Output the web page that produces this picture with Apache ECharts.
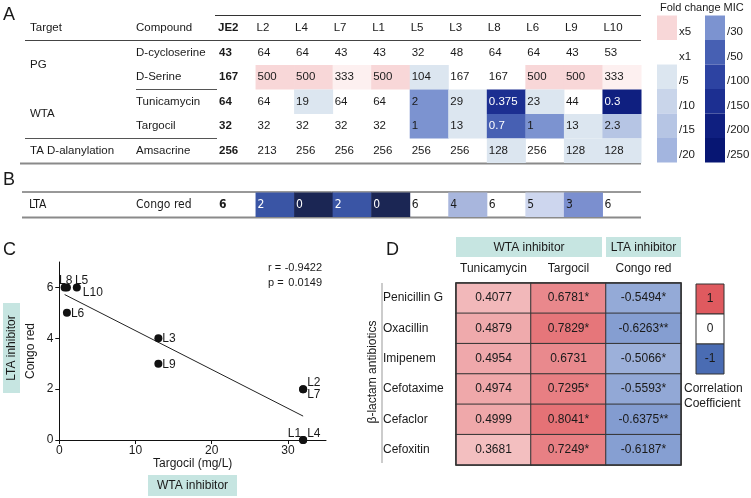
<!DOCTYPE html>
<html>
<head>
<meta charset="utf-8">
<script src="https://cdn.jsdelivr.net/npm/echarts@6/dist/echarts.min.js"></script>
<style>
  html, body { margin: 0; padding: 0; background: #fff; }
  #chart { width: 751px; height: 498px; }
</style>
</head>
<body>
<div id="chart"></div>
<script>
// ---------- panel A / B : MIC table ----------
const strains = ['JE2', 'L2', 'L4', 'L7', 'L1', 'L5', 'L3', 'L8', 'L6', 'L9', 'L10'];
const compounds = ['D-cycloserine', 'D-Serine', 'Tunicamycin', 'Targocil', 'Amsacrine'];
const targets = ['PG', 'WTA', 'TA D-alanylation'];
const targetRowSpan = [2, 2, 1];
const micRows = [
  ['43', '64', '64', '43', '43', '32', '48', '64', '64', '43', '53'],
  ['167', '500', '500', '333', '500', '104', '167', '167', '500', '500', '333'],
  ['64', '64', '19', '64', '64', '2', '29', '0.375', '23', '44', '0.3'],
  ['32', '32', '32', '32', '32', '1', '13', '0.7', '1', '13', '2.3'],
  ['256', '213', '256', '256', '256', '256', '256', '128', '256', '128', '128']
];
// fold change class of each cell, read from the shading
const foldRows = [
  ['x1', 'x1', 'x1', 'x1', 'x1', 'x1', 'x1', 'x1', 'x1', 'x1', 'x1'],
  ['x1', 'x5', 'x5', 'x2', 'x5', '/5', 'x1', 'x1', 'x5', 'x5', 'x2'],
  ['x1', 'x1', '/5', 'x1', 'x1', '/30', '/5', '/150', '/5', 'x1', '/200'],
  ['x1', 'x1', 'x1', 'x1', 'x1', '/30', '/5', '/50', '/30', '/5', '/15'],
  ['x1', 'x1', 'x1', 'x1', 'x1', 'x1', 'x1', '/5', 'x1', '/5', '/5']
];
const foldLegendLeft = ['x5', 'x1', '/5', '/10', '/15', '/20'];
const foldLegendRight = ['/30', '/50', '/100', '/150', '/200', '/250'];
const ltaTarget = 'LTA';
const ltaCompound = ['Congo red'];
const congoRed = [6, 2, 0, 2, 0, 6, 4, 6, 5, 3, 6];

// ---------- panel C : scatter ----------
const mutants = strains.slice(1);
const targocilMic = micRows[3].slice(1).map(Number);
const congoRedMic = congoRed.slice(1);
const fitLine = [[0.7, 5.72], [32, 0.94]];
const xTicks = [0, 10, 20, 30];
const yTicks = [0, 2, 4, 6];
const corrText = [['r =', '-0.9422'], ['p =', '0.0149']];

// ---------- panel D : correlation heatmap ----------
const antibiotics = ['Penicillin G', 'Oxacillin', 'Imipenem', 'Cefotaxime', 'Cefaclor', 'Cefoxitin'];
const inhibitors = ['Tunicamycin', 'Targocil', 'Congo red'];
const rTunicamycin = [0.4077, 0.4879, 0.4954, 0.4974, 0.4999, 0.3681];
const rTargocil = [0.6781, 0.7829, 0.6731, 0.7295, 0.8041, 0.7249];
const rCongoRed = [-0.5494, -0.6263, -0.5066, -0.5593, -0.6375, -0.6187];
const sigTunicamycin = ['', '', '', '', '', ''];
const sigTargocil = ['*', '*', '', '*', '*', '*'];
const sigCongoRed = ['*', '**', '*', '*', '**', '*'];
const colorbarTicks = ['1', '0', '-1'];

// ---------- styles ----------
const FONT = '"Liberation Sans", Arial, sans-serif';
const NARROW = '"Liberation Sans Narrow", "DejaVu Sans Condensed", "Liberation Sans", sans-serif';
const INK = '#1a1a1a';
const TEAL = '#c6e5e1';
const foldColors = {
  'x5': '#f8d7d8', 'x2': '#fdf0f0', 'x1': '#ffffff',
  '/5': '#dce6f0', '/10': '#c9d5ea', '/15': '#b6c5e4', '/20': '#a3b5df',
  '/30': '#7c93d0', '/50': '#4760b3', '/100': '#2d43a2', '/150': '#1c2f91',
  '/200': '#0f1f80', '/250': '#071673'
};
const darkFold = ['/50', '/100', '/150', '/200', '/250'];
const congoColors = { 0: '#1b2654', 1: '#2a3d7c', 2: '#3a55a5', 3: '#7b8fcf', 4: '#a8b6dd', 5: '#cdd6ee', 6: '#ffffff' };
const labelPlace = {
  L8: { align: 'center', offset: [1, -7] },
  L5: { align: 'left', offset: [8, -7] },
  L10: { align: 'left', offset: [6, 5] },
  L6: { align: 'left', offset: [4, 1] },
  L3: { align: 'left', offset: [4, 0] },
  L9: { align: 'left', offset: [4, 1] },
  L2: { align: 'left', offset: [4, -6] },
  L7: { align: 'left', offset: [4, 6] },
  L1: { align: 'right', offset: [-2, -6] },
  L4: { align: 'left', offset: [4, -6] }
};

// table grid geometry (A rows share it with the legend)
const tableTop = 40.5, rowH = 24.5;

function cellRenderer(textOf, fillOf, darkOf, font) {
  return function (params, api) {
    const c = api.value(0), r = api.value(1);
    const p = api.coord([c, r]);
    const s = api.size([1, 1]);
    const x0 = p[0] - s[0] / 2, y0 = p[1] - s[1] / 2;
    const fill = fillOf(r, c);
    const children = [];
    if (fill !== '#ffffff') {
      children.push({ type: 'rect', shape: { x: x0, y: y0, width: s[0] + 0.5, height: s[1] }, style: { fill: fill } });
    }
    children.push({
      type: 'text',
      style: {
        x: x0 + 2, y: p[1], text: textOf(r, c),
        font: (c === 0 ? 'bold ' : '') + font,
        fill: darkOf(r, c) ? '#ffffff' : INK, align: 'left', verticalAlign: 'middle'
      }
    });
    return { type: 'group', children: children };
  };
}

const cellsA = [];
micRows.forEach((row, r) => row.forEach((v, c) => cellsA.push([c, r])));
const cellsB = congoRed.map((v, c) => [c, 0]);

const heatData = [];
[rTunicamycin, rTargocil, rCongoRed].forEach((col, x) => col.forEach((v, y) => heatData.push([x, y, v])));
const sigCols = [sigTunicamycin, sigTargocil, sigCongoRed];

const scatterData = mutants.map((m, i) => ({
  name: m,
  value: [targocilMic[i], congoRedMic[i]],
  label: { position: 'inside', align: labelPlace[m].align, offset: labelPlace[m].offset }
}));

// ---------- graphic decorations ----------
const g = [];
function txt(x, y, text, opt) {
  g.push(Object.assign({
    type: 'text', x: x, y: y,
    style: Object.assign({ text: text, font: '11.5px ' + FONT, fill: INK, align: 'left', verticalAlign: 'middle' }, opt || {})
  }));
}
function hline(x1, x2, y, color, w) {
  g.push({ type: 'line', shape: { x1: x1, y1: y, x2: x2, y2: y }, style: { stroke: color, lineWidth: w } });
}
// panel letters
txt(3, 15, 'A', { font: '18px ' + FONT });
txt(3, 180, 'B', { font: '18px ' + FONT });
txt(3, 250, 'C', { font: '18px ' + FONT });
txt(386, 250, 'D', { font: '18px ' + FONT });
// table A headings and targets
txt(30, 28, 'Target');
txt(136, 28, 'Compound');
let acc = 0;
targets.forEach((t, i) => {
  txt(30, tableTop + (acc + targetRowSpan[i] / 2) * rowH, t);
  acc += targetRowSpan[i];
});
hline(215, 641, 15.5, '#333', 1);
hline(25, 641, tableTop, '#444', 1.2);
hline(136, 217, tableTop + 2 * rowH, '#555', 1);
hline(25, 217, tableTop + 4 * rowH, '#555', 1);
hline(20, 641, tableTop + 5 * rowH + 0.5, '#8a8a8a', 2.2);
// table B
txt(29, 205, ltaTarget, { font: '12px ' + NARROW });
hline(22, 641, 192, '#333', 1);
hline(22, 641, 217.5, '#8a8a8a', 2.2);
// fold change legend
txt(660, 8, 'Fold change MIC', { font: '11px ' + FONT });
[[foldLegendLeft, 657], [foldLegendRight, 705]].forEach(([items, lx]) => {
  items.forEach((lv, i) => {
    const y = 15.5 + i * rowH;
    if (foldColors[lv] !== '#ffffff') {
      g.push({ type: 'rect', shape: { x: lx, y: y, width: 20, height: rowH }, style: { fill: foldColors[lv] } });
    }
    txt(lx + 22, y + rowH / 2 + 4.5, lv, { font: '11.5px ' + FONT });
  });
});
// panel C extras
corrText.forEach((pair, i) => {
  txt(268, 268 + i * 15, pair[0], { font: '11px ' + FONT });
  txt(322, 268 + i * 15, pair[1], { font: '11px ' + FONT, align: 'right' });
});
g.push({ type: 'rect', shape: { x: 3, y: 303, width: 17, height: 90 }, style: { fill: TEAL } });
g.push({ type: 'text', x: 11.5, y: 348, rotation: Math.PI / 2,
  style: { text: 'LTA inhibitor', font: '12px ' + FONT, fill: INK, align: 'center', verticalAlign: 'middle' } });
g.push({ type: 'rect', shape: { x: 148, y: 475, width: 89, height: 21 }, style: { fill: TEAL } });
txt(192.5, 485.5, 'WTA inhibitor', { font: '12px ' + FONT, align: 'center' });
// panel D extras
g.push({ type: 'rect', shape: { x: 456, y: 237, width: 146, height: 20 }, style: { fill: TEAL } });
txt(529, 247.5, 'WTA inhibitor', { font: '12px ' + FONT, align: 'center' });
g.push({ type: 'rect', shape: { x: 606, y: 237, width: 75, height: 20 }, style: { fill: TEAL } });
txt(643.5, 247.5, 'LTA inhibitor', { font: '12px ' + FONT, align: 'center' });
g.push({ type: 'line', shape: { x1: 382, y1: 283, x2: 382, y2: 463 }, style: { stroke: '#999', lineWidth: 1 } });
g.push({ type: 'text', x: 373, y: 372, rotation: Math.PI / 2,
  style: { text: 'β-lactam antibiotics', font: '12px ' + FONT, fill: INK, align: 'center', verticalAlign: 'middle' } });
g.push({ type: 'rect', shape: { x: 456, y: 283, width: 225, height: 182 }, style: { fill: 'none', stroke: '#333', lineWidth: 1.5 }, z: 10 });
const cbColors = ['#df5a5f', '#ffffff', '#4a6cb3'];
colorbarTicks.forEach((t, i) => {
  g.push({ type: 'rect', shape: { x: 696, y: 284 + i * 30, width: 28, height: 30 }, style: { fill: cbColors[i], stroke: '#333', lineWidth: 1 } });
  txt(710, 299 + i * 30, t, { font: '12px ' + FONT, align: 'center' });
});
txt(684, 389, 'Correlation', { font: '12px ' + FONT });
txt(684, 404, 'Coefficient', { font: '12px ' + FONT });

// ---------- chart ----------
const hiddenCat = (data, grid) => ({ type: 'category', gridIndex: grid, data: data, show: false });
const rowAxis = (data, grid, margin, font) => ({
  type: 'category', gridIndex: grid, data: data, inverse: true,
  axisLine: { show: false }, axisTick: { show: false }, splitLine: { show: false },
  axisLabel: { align: 'left', margin: margin, interval: 0, color: INK, fontSize: font.size, fontFamily: font.family }
});

const chart = echarts.init(document.getElementById('chart'));
chart.setOption({
  backgroundColor: '#ffffff',
  animation: false,
  textStyle: { fontFamily: FONT },
  grid: [
    { left: 217, top: tableTop, width: 424, height: 5 * rowH, containLabel: false, outerBoundsMode: 'none' },
    { left: 217, top: 192.5, width: 424, height: 24.5, containLabel: false, outerBoundsMode: 'none' },
    { left: 59.3, top: 262, width: 266.7, height: 178, containLabel: false, outerBoundsMode: 'none' },
    { left: 456, top: 283, width: 225, height: 182, containLabel: false, outerBoundsMode: 'none' }
  ],
  xAxis: [
    hiddenCat(strains, 0),
    hiddenCat(strains, 1),
    {
      type: 'value', gridIndex: 2, min: 0, max: 35, interval: 10,
      name: 'Targocil (mg/L)', nameLocation: 'middle', nameGap: 18,
      nameTextStyle: { color: INK, fontSize: 12, fontFamily: FONT },
      axisLine: { lineStyle: { color: '#111', width: 1 } },
      axisTick: { length: 4, lineStyle: { color: '#111' }, customValues: xTicks },
      axisLabel: { color: INK, fontSize: 12, margin: 5, customValues: xTicks },
      splitLine: { show: false }
    },
    {
      type: 'category', gridIndex: 3, data: inhibitors, position: 'top',
      axisLine: { show: false }, axisTick: { show: false },
      axisLabel: { color: INK, fontSize: 12, fontFamily: FONT, margin: 8, interval: 0 }
    }
  ],
  yAxis: [
    rowAxis(compounds, 0, 81, { size: 11.5, family: FONT }),
    rowAxis(ltaCompound, 1, 81, { size: 12, family: NARROW }),
    {
      type: 'value', gridIndex: 2, min: 0, max: 7, interval: 1,
      name: 'Congo red', nameLocation: 'middle', nameGap: 23,
      nameTextStyle: { color: INK, fontSize: 12, fontFamily: FONT },
      axisLine: { show: true, lineStyle: { color: '#111', width: 1 } },
      axisTick: { show: true, length: 4, lineStyle: { color: '#111' }, customValues: yTicks },
      axisLabel: { color: INK, fontSize: 12, margin: 6, customValues: yTicks },
      splitLine: { show: false }
    },
    rowAxis(antibiotics, 3, 73, { size: 12, family: FONT })
  ],
  visualMap: [{
    type: 'continuous', show: false, seriesIndex: 5, dimension: 2, min: -1, max: 1,
    inRange: { color: ['#3c64b6', '#ffffff', '#df5055'] }
  }],
  series: [
    {
      type: 'custom', name: 'MIC', xAxisIndex: 0, yAxisIndex: 0, clip: false, data: cellsA,
      renderItem: cellRenderer(
        (r, c) => micRows[r][c],
        (r, c) => foldColors[foldRows[r][c]],
        (r, c) => darkFold.indexOf(foldRows[r][c]) >= 0,
        '11.5px ' + FONT)
    },
    {
      type: 'custom', name: 'strains', xAxisIndex: 0, yAxisIndex: 0, clip: false,
      data: strains.map((s, c) => [c, 0]),
      renderItem: function (params, api) {
        const c = api.value(0);
        const p = api.coord([c, 0]);
        const s = api.size([1, 1]);
        return {
          type: 'text',
          style: {
            x: p[0] - s[0] / 2 + 1, y: p[1] - s[1], text: strains[c],
            font: (c === 0 ? 'bold ' : '') + '11.5px ' + FONT, fill: INK, align: 'left', verticalAlign: 'middle'
          }
        };
      }
    },
    {
      type: 'custom', name: 'Congo red', xAxisIndex: 1, yAxisIndex: 1, clip: false, data: cellsB,
      renderItem: cellRenderer(
        (r, c) => String(congoRed[c]),
        (r, c) => congoColors[congoRed[c]],
        (r, c) => congoRed[c] <= 2,
        '12px ' + NARROW)
    },
    {
      type: 'scatter', name: 'mutants', xAxisIndex: 2, yAxisIndex: 2, z: 5,
      symbolSize: 8, itemStyle: { color: '#111', opacity: 1 },
      label: { show: true, formatter: '{b}', color: INK, fontSize: 12, fontFamily: FONT },
      data: scatterData
    },
    {
      type: 'line', name: 'fit', xAxisIndex: 2, yAxisIndex: 2, symbol: 'none',
      lineStyle: { color: '#222', width: 1 }, data: fitLine
    },
    {
      type: 'heatmap', name: 'correlation', xAxisIndex: 3, yAxisIndex: 3, data: heatData,
      itemStyle: { borderColor: '#333', borderWidth: 1 },
      label: {
        show: true, color: INK, fontSize: 12, fontFamily: FONT,
        formatter: p => p.value[2].toFixed(4) + sigCols[p.value[0]][p.value[1]]
      }
    }
  ],
  graphic: g
});
</script>
</body>
</html>
